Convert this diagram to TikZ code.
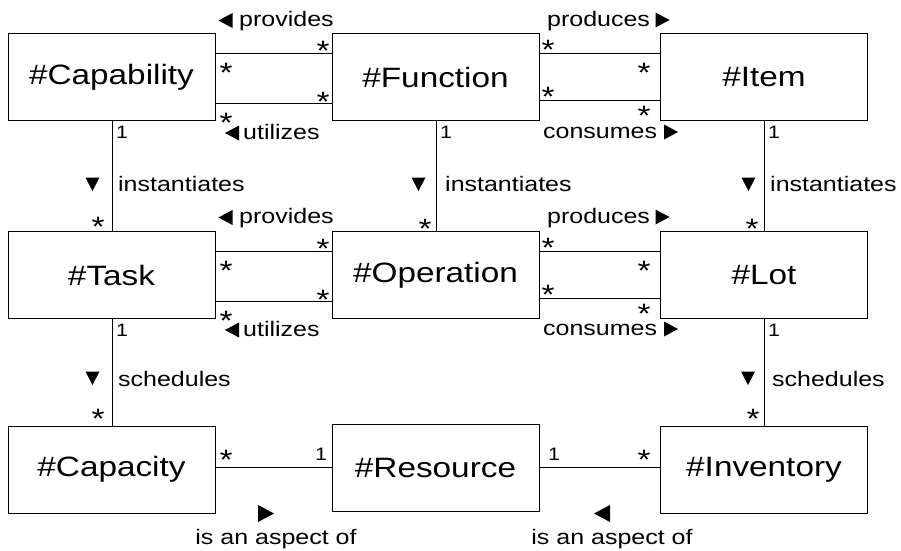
\documentclass[tikz,border=0pt]{standalone}
\usepackage{fontspec}
\setmainfont[FakeStretch=1.19]{Liberation Sans}
% an asterisk whose box hugs the glyph, so it can be placed by its centre
\newcommand\multstar{\raisebox{-12pt}[8pt][0pt]{*}}
\begin{document}
\begin{tikzpicture}[x=1pt,y=-1pt,
  box/.style={draw, line width=0.9pt, minimum width=207pt, minimum height=87pt,
    inner sep=0pt, font=\fontsize{28}{32}\selectfont},
  conn/.style={line width=0.9pt},
  lbl/.style={inner sep=0pt, anchor=base west, font=\fontsize{21}{24}\selectfont},
  lblc/.style={inner sep=0pt, anchor=base, font=\fontsize{21}{24}\selectfont},
  one/.style={inner sep=0pt, anchor=base west, font=\fontsize{18}{20}\selectfont},
  many/.style={inner sep=0pt, anchor=center, font=\fontsize{28}{28}\selectfont},
  triL/.pic={\fill (-7,0) -- (7,-7.5) -- (7,7.5) -- cycle;},
  triR/.pic={\fill (7,0) -- (-7,-7.5) -- (-7,7.5) -- cycle;},
  triD/.pic={\fill (0,7) -- (-7,-6.5) -- (7,-6.5) -- cycle;},
  bigR/.pic={\fill (8,0) -- (-8,-8.5) -- (-8,8.5) -- cycle;},
  bigL/.pic={\fill (-8,0) -- (8,-8.5) -- (8,8.5) -- cycle;}]
\useasboundingbox (0,0) rectangle (901,550);

% classes
\node[box] (cap)  at (111.5,77)    {\#Capability};
\node[box] (fun)  at (435.5,77)    {\#Function};
\node[box] (item) at (764,77)      {\#Item};
\node[box] (task) at (111.5,275)   {\#Task};
\node[box] (oper) at (435.5,275)   {\#Operation};
\node[box] (lot)  at (764,275)     {\#Lot};
\node[box] (capa) at (111.5,469.5) {\#Capacity};
\node[box] (res)  at (435.5,467.5) {\#Resource};
\node[box] (inv)  at (764,469.5)   {\#Inventory};

% paired associations
\draw[conn] ([yshift=23.5pt]cap.east)  -- ([yshift=23.5pt]fun.west);
\draw[conn] ([yshift=-26.5pt]cap.east) -- ([yshift=-26.5pt]fun.west);
\draw[conn] ([yshift=23.5pt]fun.east)  -- ([yshift=23.5pt]item.west);
\draw[conn] ([yshift=-23.5pt]fun.east) -- ([yshift=-23.5pt]item.west);
\draw[conn] ([yshift=23.5pt]task.east)  -- ([yshift=23.5pt]oper.west);
\draw[conn] ([yshift=-26.5pt]task.east) -- ([yshift=-26.5pt]oper.west);
\draw[conn] ([yshift=23.5pt]oper.east)  -- ([yshift=23.5pt]lot.west);
\draw[conn] ([yshift=-23.5pt]oper.east) -- ([yshift=-23.5pt]lot.west);

% vertical associations
\draw[conn] ([xshift=1pt]cap.south) -- ([xshift=1pt]task.north);
\draw[conn] ([xshift=1pt]fun.south) -- ([xshift=1pt]oper.north);
\draw[conn] (item.south) -- (lot.north);
\draw[conn] ([xshift=1pt]task.south) -- ([xshift=1pt]capa.north);
\draw[conn] (lot.south) -- (inv.north);

% resource aspects
\draw[conn] (res.west -| capa.east) -- (res.west);
\draw[conn] (res.east) -- (res.east -| inv.west);

% association names, upper two rows
\foreach \dy/\r in {0/a,197/b}{
  \pic at (225.5,20.5+\dy) {triL};
  \node[lbl] (prov\r) at (239,26.5+\dy) {provides};
  \pic at (232,133+\dy) {triL};
  \node[lbl] (util\r) at (243,139.5+\dy) {utilizes};
  \node[lbl] (prod\r) at (547,26.5+\dy) {produces};
  \pic at (662.5,20+\dy) {triR};
  \node[lbl] (cons\r) at (543,138.5+\dy) {consumes};
  \pic at (671,132+\dy) {triR};
}

% multiplicities on the paired associations
\foreach \dy/\r in {0/a,198/b}{
  \node[many] (m1\r) at (323,44+\dy)  {\multstar};
  \node[many] (m2\r) at (226,66+\dy)  {\multstar};
  \node[many] (m3\r) at (323,95+\dy)  {\multstar};
  \node[many] (m4\r) at (226,116+\dy) {\multstar};
  \node[many] (m5\r) at (548,43+\dy)  {\multstar};
  \node[many] (m6\r) at (644,66+\dy)  {\multstar};
  \node[many] (m7\r) at (548,90+\dy)  {\multstar};
  \node[many] (m8\r) at (644,109+\dy) {\multstar};
}

% instantiates
\node[one] (i1) at (116,138)   {1};
\node[one] (i2) at (440,138)   {1};
\node[one] (i3) at (768,138)   {1};
\pic at (92.5,184) {triD};
\pic at (418.5,184) {triD};
\pic at (748.5,184) {triD};
\node[lbl] (inst1) at (118,191.5) {instantiates};
\node[lbl] (inst2) at (445,191.5) {instantiates};
\node[lbl] (inst3) at (770,191.5) {instantiates};
\node[many] (s1) at (98,220)  {\multstar};
\node[many] (s2) at (425,222) {\multstar};
\node[many] (s3) at (752,222) {\multstar};

% schedules
\node[one] (j1) at (116,336) {1};
\node[one] (j3) at (768,336) {1};
\pic at (92.5,378) {triD};
\pic at (748,378) {triD};
\node[lbl] (sch1) at (118,386) {schedules};
\node[lbl] (sch3) at (772,386) {schedules};
\node[many] (t1) at (98,412)  {\multstar};
\node[many] (t3) at (753,412) {\multstar};

% is an aspect of
\node[many] (u1) at (226,453) {\multstar};
\node[one]  (u2) at (315,460) {1};
\node[one]  (u3) at (548,460) {1};
\node[many] (u4) at (644,453) {\multstar};
\pic at (266,513.5) {bigR};
\pic at (602,513.5) {bigL};
\node[lblc] (asp1) at (276,544) {is an aspect of};
\node[lblc] (asp2) at (612,544) {is an aspect of};
\end{tikzpicture}
\end{document}
